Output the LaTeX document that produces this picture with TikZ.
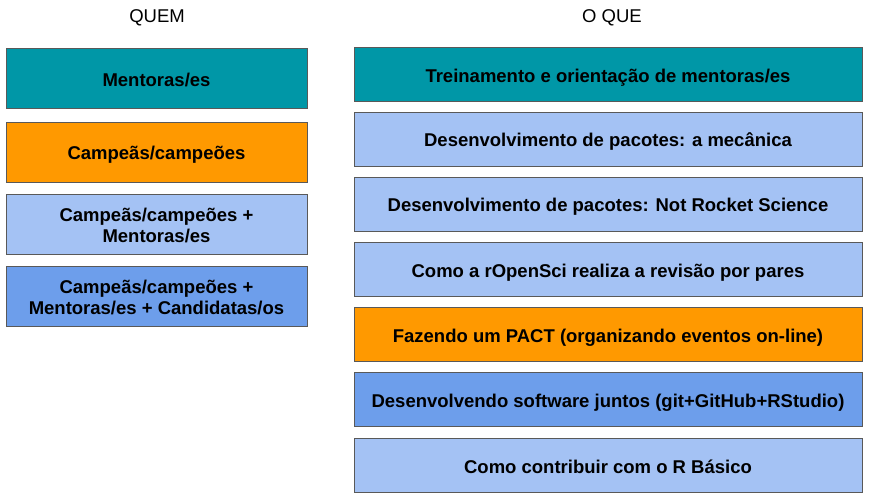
\documentclass[tikz,border=0pt]{standalone}
\usepackage{fontspec}
\setmainfont{Liberation Sans}
\definecolor{teal1}{RGB}{0,151,167}
\definecolor{orange1}{RGB}{255,153,0}
\definecolor{lblue}{RGB}{164,194,244}
\definecolor{mblue}{RGB}{109,158,235}
\definecolor{edge}{RGB}{89,89,89}
\begin{document}
\begin{tikzpicture}[x=1pt,y=-1pt,
  box/.style={draw=edge,line width=1pt,inner sep=0pt,align=center,
    font=\fontsize{18.5}{21}\selectfont\bfseries},
  one/.style={text height=18pt,text depth=3pt},
  lbox/.style={box,minimum width=301pt,minimum height=60pt},
  rbox/.style={box,one,minimum width=508pt,minimum height=54pt},
  head/.style={font=\fontsize{18.5}{21.5}\selectfont}]
\useasboundingbox (0,0) rectangle (871,502);
\node[head] (h1) at (157,18) {QUEM};
\node[head] (h2) at (612,18) {O QUE};
\node[lbox,one,fill=teal1] (l1) at (156.5,79) {Mentoras/es};
\node[lbox,one,fill=orange1] (l2) at (156.5,152.5) {Campeãs/campeões};
\node[lbox,fill=lblue] (l3) at (156.5,225) {\raisebox{-1pt}{Campeãs/campeões +}\\\raisebox{-1pt}{Mentoras/es}};
\node[lbox,fill=mblue] (l4) at (156.5,297) {\raisebox{-1pt}{Campeãs/campeões +}\\\raisebox{-1pt}{Mentoras/es + Candidatas/os}};
\node[rbox,fill=teal1] (r1) at (608,75) {Treinamento e orientação de mentoras/es};
\node[rbox,fill=lblue] (r2) at (608,139.5) {Desenvolvimento de pacotes: a mecânica};
\node[rbox,fill=lblue] (r3) at (608,204.5) {Desenvolvimento de pacotes: Not Rocket Science};
\node[rbox,fill=lblue] (r4) at (608,270) {Como a rOpenSci realiza a revisão por pares};
\node[rbox,fill=orange1] (r5) at (608,335) {Fazendo um PACT (organizando eventos on-line)};
\node[rbox,fill=mblue] (r6) at (608,400) {Desenvolvendo software juntos (git+GitHub+RStudio)};
\node[rbox,fill=lblue] (r7) at (608,466) {Como contribuir com o R Básico};
\end{tikzpicture}
\end{document}
